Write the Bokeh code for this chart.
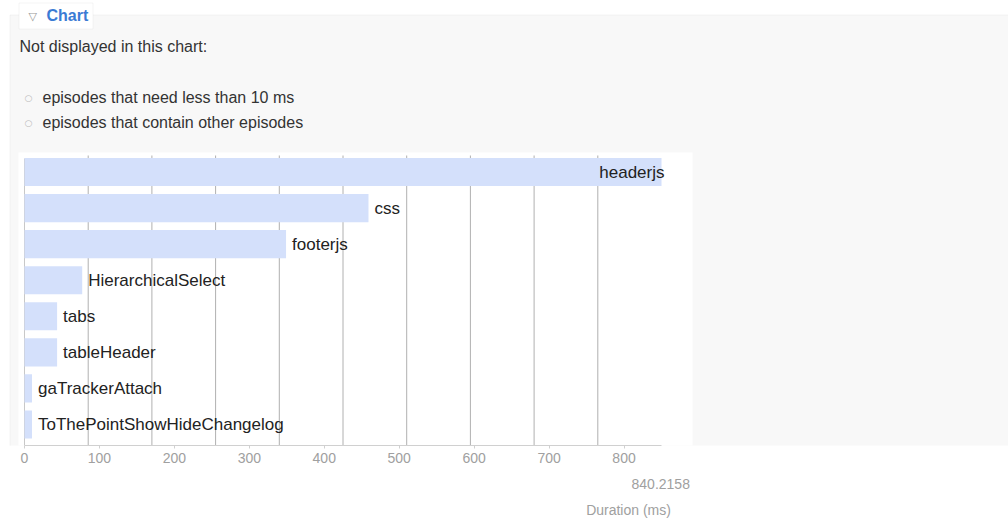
from bokeh.plotting import figure
from bokeh.models import (ColumnDataSource, LabelSet, Label, BoxAnnotation,
                          FixedTicker, Range1d, LinearAxis)
from bokeh.core.properties import value
from bokeh.embed import file_html
from bokeh.resources import INLINE

# ---- data -------------------------------------------------------------
episodes = ["headerjs", "css", "footerjs", "HierarchicalSelect", "tabs",
            "tableHeader", "gaTrackerAttach", "ToThePointShowHideChangelog"]
durations = [850, 459, 349, 77, 43.5, 43.5, 10, 10]
x_tick_values = [0, 100, 200, 300, 400, 500, 600, 700, 800]
grid_values = [85, 170, 255, 340, 425, 510, 595, 680, 765]
x_max = 850
max_label = "840.2158"
axis_title = "Duration (ms)"
panel_title = "Chart"
intro_text = "Not displayed in this chart:"
excluded_items = ["episodes that need less than 10 ms",
                  "episodes that contain other episodes"]

# ---- layout (page pixels) ---------------------------------------------
W, H = 1008, 526
ZERO_PX = 24          # x pixel of value 0
END_PX = 661          # x pixel of x_max
AXIS_PX = 445         # y pixel of the x axis (frame bottom)
ROW0_PX = 424         # y pixel of the centre of the last row
ROW_STEP = 36.07      # pixels between rows
CHART_TOP_PX = 155

kx = (END_PX - ZERO_PX) / x_max


def px2x(px):
    return (px - ZERO_PX) / kx


def px2y(py):
    return (ROW0_PX - py) / ROW_STEP


n = len(episodes)
ypos = [n - 1 - i for i in range(n)]
align = ["right" if v > 0.9 * x_max else "left" for v in durations]
xoff = [3 if a == "right" else 6 for a in align]
src = ColumnDataSource(dict(y=ypos, v=durations, name=episodes, align=align, xoff=xoff))

p = figure(width=W, height=H, output_backend="svg", toolbar_location=None,
           x_range=Range1d(px2x(0), px2x(W)), y_range=Range1d(px2y(AXIS_PX), px2y(0)),
           min_border_left=0, min_border_right=0, min_border_top=0,
           min_border_bottom=H - AXIS_PX)
p.border_fill_color = "white"
p.background_fill_color = "white"
p.outline_line_color = None
p.xgrid.visible = False
p.ygrid.visible = False
p.yaxis.visible = False


def box(x0, x1, y0, y1, fill, line=None):
    b = BoxAnnotation(left=px2x(x0), right=px2x(x1), top=px2y(y0), bottom=px2y(y1),
                      fill_color=fill, fill_alpha=1, line_color=line, line_width=1,
                      level="image")
    p.add_layout(b)


# page decoration: fieldset, legend box, white chart box
box(9.5, 1100, 14.5, 700, "#f8f8f8", "#dcdcdc")
box(18.5, 92.5, 2.5, 28.5, "white", "#dcdcdc")
box(18, 692, 152, 700, "white")

# vertical grid lines and left axis line (behind the bars)
y_top = px2y(CHART_TOP_PX)
y_bot = px2y(AXIS_PX)
p.segment(x0=grid_values, x1=grid_values, y0=[y_bot] * len(grid_values),
          y1=[y_top] * len(grid_values), line_color="#b0b0b0", line_width=1)
p.segment(x0=[0], x1=[0], y0=[y_bot], y1=[px2y(158)], line_color="#c8c8c8", line_width=1)

p.hbar(y="y", right="v", left=0, height=0.78, source=src,
       fill_color="#d4e0fb", line_color=None)

labels = LabelSet(x="v", y="y", text="name", source=src, x_offset="xoff",
                  text_align="align", text_baseline="middle",
                  text_font=value("Liberation Sans"), text_font_size="17px",
                  text_color="#222222")
p.add_layout(labels)

# x axis
p.xaxis.bounds = (0, x_max)
p.xaxis.ticker = FixedTicker(ticks=x_tick_values)
p.xaxis.axis_line_color = "#d0d0d0"
p.xaxis.major_tick_line_color = "#d0d0d0"
p.xaxis.major_tick_out = 3
p.xaxis.major_tick_in = 0
p.xaxis.minor_tick_line_color = None
p.xaxis.major_label_standoff = 4
p.xaxis.major_label_text_font = "Liberation Sans"
p.xaxis.major_label_text_font_size = "14px"
p.xaxis.major_label_text_color = "#a0a0a0"

# texts under the axis, placed as single-tick label rows (centre pixel given)
for txt, centre_px, standoff in ((max_label, 660, 13), (axis_title, 628, 10)):
    pos = round(px2x(centre_px))
    ax = LinearAxis(ticker=FixedTicker(ticks=[pos]),
                    major_label_overrides={pos: txt},
                    axis_line_color=None, major_tick_line_color=None,
                    minor_tick_line_color=None, major_tick_in=0, major_tick_out=0,
                    major_label_standoff=standoff,
                    major_label_text_font="Liberation Sans",
                    major_label_text_font_size="14px",
                    major_label_text_color="#a0a0a0")
    p.add_layout(ax, "below")


def add_text(xp, yp, text, size="16px", color="#333333", align="left",
             font="Liberation Sans", style="normal"):
    p.add_layout(Label(x=px2x(xp), y=px2y(yp), text=text, text_align=align,
                       text_baseline="middle", text_font=font, text_font_size=size,
                       text_color=color, text_font_style=style))


add_text(28, 16, "\u25BD", size="11px", color="#999999", font="DejaVu Sans")
add_text(46, 15, panel_title, size="16px", color="#3b7bd4", style="bold")
add_text(19, 46, intro_text)
for i, t in enumerate(excluded_items):
    yy = 97 + 25 * i
    add_text(24, yy, "\u25CB", size="9px", color="#bbbbbb", font="DejaVu Sans")
    add_text(42, yy, t)

open("out.html", "w").write(file_html(p, INLINE))
